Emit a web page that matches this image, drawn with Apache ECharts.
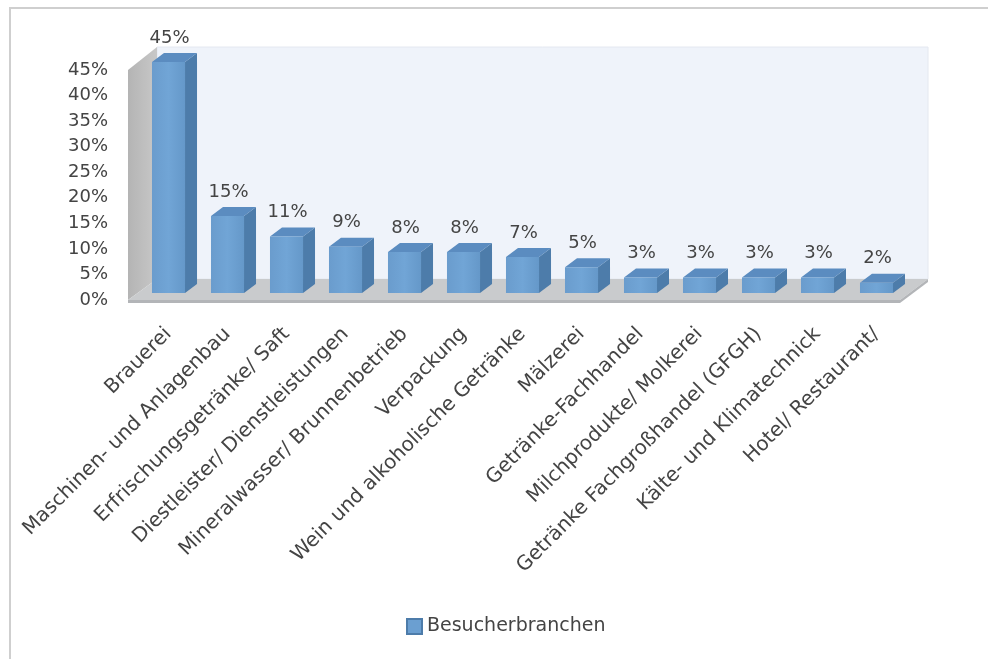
<!DOCTYPE html>
<html>
<head>
<meta charset="utf-8">
<script src="https://cdn.jsdelivr.net/npm/echarts@6/dist/echarts.min.js"></script>
<style>
html,body{margin:0;padding:0;background:#fff;}
#chart{width:988px;height:659px;}
</style>
</head>
<body>
<div id="chart"></div>
<script>
const categories = [
  'Brauerei',
  'Maschinen- und Anlagenbau',
  'Erfrischungsgetränke/ Saft',
  'Diestleister/ Dienstleistungen',
  'Mineralwasser/ Brunnenbetrieb',
  'Verpackung',
  'Wein und alkoholische Getränke',
  'Mälzerei',
  'Getränke-Fachhandel',
  'Milchprodukte/ Molkerei',
  'Getränke Fachgroßhandel (GFGH)',
  'Kälte- und Klimatechnick',
  'Hotel/ Restaurant/'
];
const values = [45, 15, 11, 9, 8, 8, 7, 5, 3, 3, 3, 3, 2];
const seriesName = 'Besucherbranchen';
const yMin = 0, yMax = 45, yStep = 5;

const FONT = 'DejaVu Sans';
const TXT = '#444';
const FRONT = '#6b9fd1', SIDE = '#4d7caa', TOP = '#5b8cc0';
const DX = 12, DY = -9;

const chart = echarts.init(document.getElementById('chart'), null, {renderer: 'canvas'});

function renderBackground(params, api) {
  const cs = params.coordSys;
  const x0 = cs.x, x1 = cs.x + cs.width, yt = cs.y, yb = cs.y + cs.height;
  const fl = [x0 - 11, yb + 7], fr = [x1 - 6, yb + 7];
  const bl = [x0 + 18, yb - 14], br = [x1 + 22, yb - 14];
  const children = [
    {type: 'rect', shape: {x: x0 + 18, y: yt - 15, width: (x1 + 22) - (x0 + 18), height: (yb - 14) - (yt - 15)},
      style: {fill: '#eff3fa', stroke: '#e4e8f0', lineWidth: 1}},
    {type: 'polygon', shape: {points: [[x0 - 11, yb + 7], [x0 - 11, yt + 8], [x0 + 18, yt - 15], [x0 + 18, yb - 14]]},
      style: {fill: new echarts.graphic.LinearGradient(0, 0, 1, 0, [{offset: 0, color: '#b4b4b4'}, {offset: 1, color: '#c8c8c8'}])}},
    {type: 'polygon', shape: {points: [fl, fr, br, bl]}, style: {fill: '#c9cbcd'}},
    {type: 'polygon', shape: {points: [fl, fr, [fr[0], fr[1] + 3], [fl[0], fl[1] + 3]]}, style: {fill: '#b3b5b8'}},
    {type: 'polygon', shape: {points: [fr, br, [br[0], br[1] + 3], [fr[0], fr[1] + 3]]}, style: {fill: '#b3b5b8'}}
  ];
  return {type: 'group', children: children, silent: true};
}

function renderBar(params, api) {
  const x = api.coord([api.value(0), 0])[0];
  const yb = api.coord([api.value(0), 0])[1];
  const yt = api.coord([api.value(0), api.value(1)])[1];
  const w = api.size([1, 0])[0] * 0.56;
  const l = x - w / 2, r = x + w / 2;
  return {
    type: 'group',
    children: [
      {type: 'polygon', shape: {points: [[r, yt], [r + DX, yt + DY], [r + DX, yb + DY], [r, yb]]}, style: {fill: SIDE}},
      {type: 'polygon', shape: {points: [[l, yt], [r, yt], [r + DX, yt + DY], [l + DX, yt + DY]]}, style: {fill: TOP}},
      {type: 'rect', shape: {x: l, y: yt, width: w, height: yb - yt},
        style: {fill: new echarts.graphic.LinearGradient(0, 0, 1, 0, [
          {offset: 0, color: '#6a9ccd'}, {offset: 0.5, color: '#71a5d6'}, {offset: 1, color: '#6598c9'}])}},
      {type: 'text', style: {text: api.value(1) + '%', x: x + 1, y: yt - 24, align: 'center', verticalAlign: 'middle',
        font: '18px "' + FONT + '"', fill: TXT}}
    ]
  };
}

const option = {
  animation: false,
  backgroundColor: '#fff',
  graphic: [{
    type: 'rect', shape: {x: 10, y: 8, width: 990, height: 660}, style: {fill: 'none', stroke: '#cfcfcf', lineWidth: 2}, z: -10
  }],
  legend: {
    data: [seriesName], left: 401, top: 612, icon: 'rect', itemWidth: 15, itemHeight: 15, itemGap: 6,
    textStyle: {fontFamily: FONT, fontSize: 19, color: TXT}
  },
  grid: [
    {left: 139, top: 62, width: 767, height: 231},
    {left: 128, top: 70, width: 10, height: 230}
  ],
  xAxis: [
    {type: 'category', gridIndex: 0, data: categories,
      axisLine: {show: false}, axisTick: {show: false},
      axisLabel: {interval: 0, rotate: 45, margin: 38, fontFamily: FONT, fontSize: 20, color: TXT}},
    {type: 'value', gridIndex: 1, show: false}
  ],
  yAxis: [
    {type: 'value', gridIndex: 0, min: yMin, max: yMax, interval: yStep, show: false},
    {type: 'value', gridIndex: 1, min: yMin, max: yMax, interval: yStep,
      axisLine: {show: false}, axisTick: {show: false}, splitLine: {show: false},
      axisLabel: {formatter: '{value}%', margin: 20, fontFamily: FONT, fontSize: 18, color: TXT}}
  ],
  series: [
    {type: 'custom', name: 'bg', xAxisIndex: 0, yAxisIndex: 0, data: [[0, 0]], renderItem: renderBackground, z: 1, silent: true},
    {type: 'custom', name: seriesName, xAxisIndex: 0, yAxisIndex: 0, z: 2,
      itemStyle: {color: FRONT, borderColor: '#4d7caa', borderWidth: 1},
      data: values.map((v, i) => [i, v]), renderItem: renderBar, encode: {x: 0, y: 1}}
  ]
};
chart.setOption(option);
</script>
</body>
</html>
